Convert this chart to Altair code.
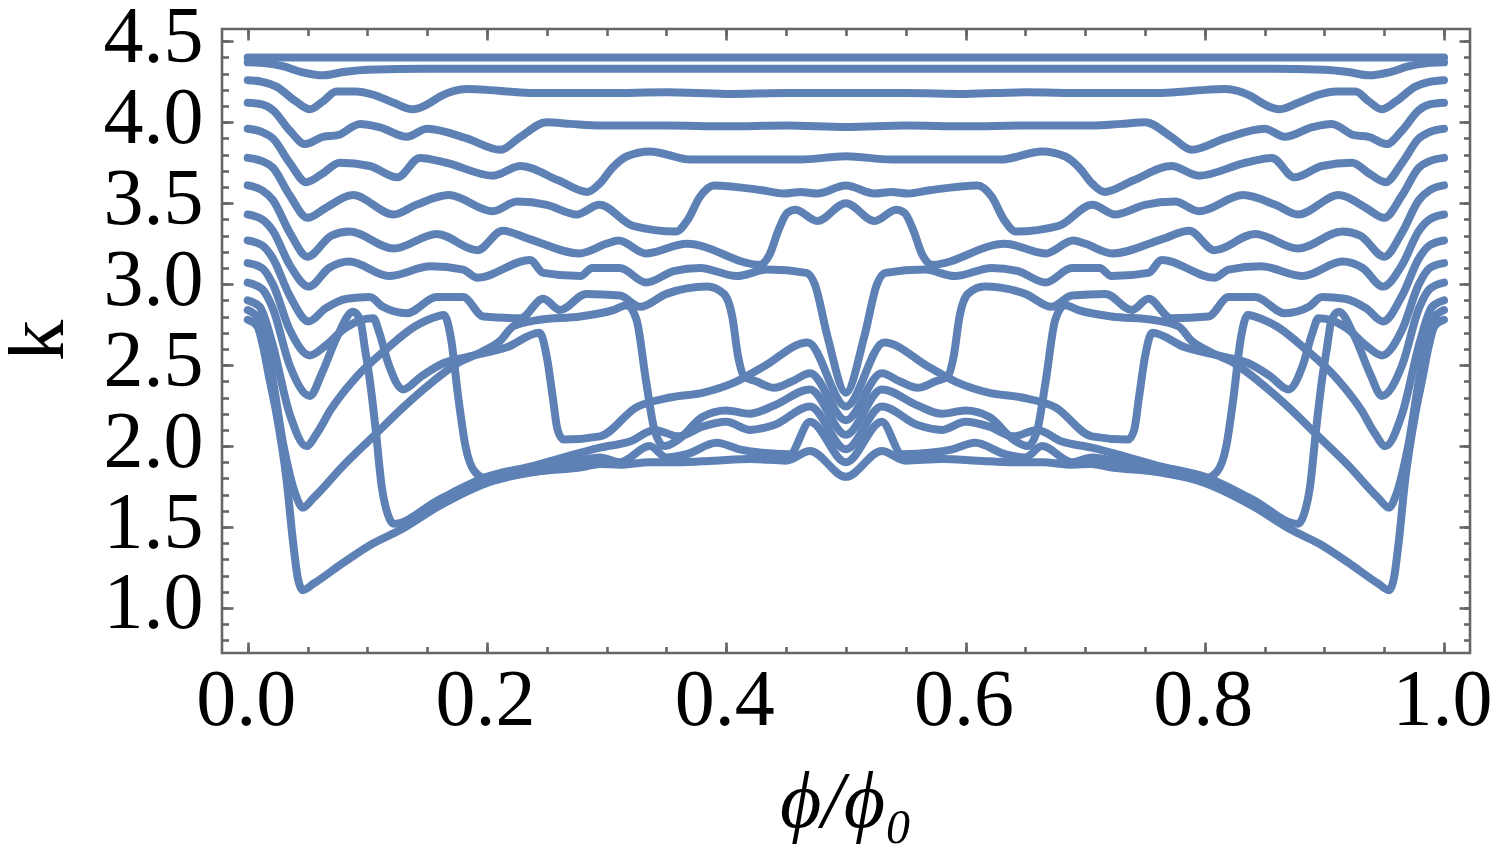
import altair as alt
import pandas as pd

# ---- data (left half, phi/phi0 in [0, 0.5]); the figure is mirror-symmetric about 0.5
PHI_C1 = [0.0, 0.1, 0.2, 0.3, 0.4, 0.5]
K_C1 = [4.40, 4.40, 4.40, 4.40, 4.40, 4.40]

PHI_C2 = [0.0, 0.015, 0.03, 0.045, 0.063, 0.08, 0.1, 0.15, 0.3, 0.5]
K_C2 = [4.37, 4.365, 4.345, 4.31, 4.29, 4.31, 4.325, 4.33, 4.33, 4.33]

PHI_C3 = [0.0, 0.012, 0.024, 0.04, 0.052, 0.063, 0.074, 0.09, 0.105, 0.122, 0.138, 0.15, 0.161,
          0.183, 0.2, 0.217, 0.239, 0.3, 0.35, 0.4, 0.45, 0.5]
K_C3 = [4.26, 4.25, 4.22, 4.13, 4.08, 4.13, 4.19, 4.19, 4.17, 4.12, 4.08, 4.11, 4.16,
        4.205, 4.20, 4.19, 4.18, 4.18, 4.185, 4.175, 4.18, 4.18]

PHI_C4 = [0.0, 0.012, 0.021, 0.035, 0.048, 0.063, 0.075, 0.094, 0.11, 0.133, 0.15, 0.183, 0.211,
          0.228, 0.25, 0.27, 0.295, 0.35, 0.4, 0.45, 0.5]
K_C4 = [4.12, 4.11, 4.075, 3.95, 3.865, 3.91, 3.92, 3.99, 3.97, 3.91, 3.96, 3.90, 3.83,
        3.91, 4.00, 3.99, 3.98, 3.98, 3.975, 3.98, 3.97]

PHI_C5 = [0.0, 0.012, 0.021, 0.035, 0.049, 0.062, 0.077, 0.102, 0.125, 0.144, 0.166, 0.205, 0.228,
          0.26, 0.284, 0.294, 0.305, 0.317, 0.336, 0.37, 0.42, 0.462, 0.5]
K_C5 = [3.96, 3.94, 3.90, 3.75, 3.63, 3.68, 3.75, 3.73, 3.66, 3.78, 3.75, 3.67, 3.73,
        3.64, 3.57, 3.62, 3.72, 3.79, 3.82, 3.77, 3.77, 3.77, 3.79]

PHI_C6 = [0.0, 0.012, 0.021, 0.035, 0.05, 0.065, 0.088, 0.122, 0.141, 0.168, 0.205, 0.225, 0.25,
          0.275, 0.294, 0.322, 0.358, 0.368, 0.378, 0.39, 0.43, 0.448, 0.462, 0.476, 0.5]
K_C6 = [3.78, 3.76, 3.72, 3.55, 3.41, 3.47, 3.55, 3.43, 3.49, 3.55, 3.45, 3.51, 3.49,
        3.43, 3.49, 3.36, 3.325, 3.40, 3.54, 3.61, 3.58, 3.56, 3.57, 3.56, 3.61]

PHI_C7 = [0.0, 0.012, 0.021, 0.035, 0.05, 0.07, 0.085, 0.122, 0.158, 0.192, 0.213, 0.235, 0.277,
          0.3, 0.31, 0.333, 0.367, 0.428, 0.436, 0.444, 0.451, 0.458, 0.476, 0.5]
K_C7 = [3.61, 3.58, 3.52, 3.32, 3.17, 3.30, 3.325, 3.22, 3.31, 3.21, 3.33, 3.28, 3.19,
        3.25, 3.27, 3.19, 3.25, 3.12, 3.18, 3.34, 3.44, 3.46, 3.39, 3.50]

PHI_C8 = [0.0, 0.012, 0.021, 0.035, 0.051, 0.068, 0.085, 0.118, 0.153, 0.18, 0.192, 0.236, 0.247,
          0.278, 0.288, 0.311, 0.333, 0.356, 0.378, 0.409, 0.434, 0.467, 0.474, 0.4845, 0.5]
K_C8 = [3.43, 3.40, 3.33, 3.12, 2.985, 3.10, 3.14, 3.05, 3.11, 3.09, 3.04, 3.15, 3.07,
        3.05, 3.10, 3.10, 3.01, 3.08, 3.10, 3.05, 3.09, 3.07, 3.00, 2.68, 2.33]

PHI_C9 = [0.0, 0.012, 0.021, 0.035, 0.051, 0.065, 0.083, 0.102, 0.113, 0.133, 0.158, 0.18, 0.197,
          0.228, 0.247, 0.261, 0.283, 0.311, 0.328, 0.35, 0.384, 0.398, 0.405, 0.41, 0.415, 0.425,
          0.44, 0.455, 0.47, 0.5]
K_C9 = [3.27, 3.24, 3.16, 2.93, 2.77, 2.85, 2.91, 2.92, 2.86, 2.82, 2.92, 2.92, 2.80,
        2.79, 2.91, 2.84, 2.94, 2.93, 2.86, 2.94, 2.985, 2.94, 2.80, 2.55, 2.43, 2.40,
        2.36, 2.40, 2.45, 2.16]

PHI_C10 = [0.0, 0.012, 0.021, 0.035, 0.052, 0.065, 0.08, 0.095, 0.105, 0.11, 0.118, 0.13, 0.145,
           0.163, 0.183, 0.2165, 0.244, 0.25, 0.255, 0.259, 0.264, 0.2945, 0.325, 0.353, 0.381,
           0.406, 0.431, 0.468, 0.5]
K_C10 = [3.13, 3.10, 3.00, 2.72, 2.56, 2.62, 2.72, 2.78, 2.79, 2.70, 2.50, 2.35, 2.43,
         2.51, 2.55, 2.61, 2.70, 2.55, 2.30, 2.10, 2.04, 2.06, 2.24, 2.30, 2.33,
         2.39, 2.49, 2.64, 2.245]

PHI_C11 = [0.0, 0.012, 0.021, 0.035, 0.052, 0.062, 0.075, 0.088, 0.094, 0.098, 0.102, 0.107, 0.112,
           0.117, 0.122, 0.16, 0.2, 0.24, 0.264, 0.2945, 0.32, 0.34, 0.36, 0.38, 0.40, 0.42,
           0.44, 0.47, 0.5]
K_C11 = [3.01, 2.97, 2.85, 2.50, 2.31, 2.45, 2.68, 2.83, 2.78, 2.60, 2.41, 2.10, 1.75,
         1.58, 1.52, 1.67, 1.81, 1.88, 1.93, 1.99, 2.03, 2.10, 2.06, 2.12, 2.15, 2.10,
         2.13, 2.245, 1.98]

PHI_C12 = [0.0, 0.01, 0.02, 0.035, 0.049, 0.058, 0.069, 0.09, 0.116, 0.14, 0.158, 0.164, 0.17,
           0.176, 0.182, 0.19, 0.2, 0.24, 0.27, 0.2945, 0.311, 0.336, 0.35, 0.367, 0.392, 0.411,
           0.428, 0.453, 0.47, 0.5]
K_C12 = [2.90, 2.86, 2.65, 2.20, 2.00, 2.08, 2.22, 2.42, 2.60, 2.74, 2.80, 2.81, 2.66,
         2.30, 2.00, 1.84, 1.80, 1.87, 1.90, 1.93, 1.90, 2.00, 1.93, 1.95, 2.02, 1.98,
         1.96, 1.95, 2.15, 1.90]

PHI_C13 = [0.0, 0.01, 0.02, 0.03, 0.04, 0.046, 0.055, 0.08, 0.105, 0.13, 0.155, 0.175, 0.195,
           0.211, 0.222, 0.244, 0.278, 0.3056, 0.317, 0.325, 0.333, 0.34, 0.348, 0.36, 0.38,
           0.40, 0.42, 0.44, 0.47, 0.5]
K_C13 = [2.84, 2.78, 2.45, 2.00, 1.70, 1.62, 1.68, 1.88, 2.06, 2.24, 2.40, 2.51, 2.58,
         2.65, 2.74, 2.78, 2.80, 2.84, 2.87, 2.78, 2.40, 2.10, 2.00, 2.04, 2.18,
         2.22, 2.20, 2.25, 2.35, 2.07]

PHI_C14 = [0.0, 0.008, 0.013, 0.018, 0.024, 0.0325, 0.038, 0.042, 0.046, 0.055, 0.08, 0.105, 0.127,
           0.16, 0.203, 0.24, 0.28, 0.2945, 0.311, 0.336, 0.36, 0.39, 0.42, 0.45, 0.47, 0.5]
K_C14 = [2.78, 2.74, 2.61, 2.42, 2.20, 1.79, 1.40, 1.18, 1.11, 1.15, 1.28, 1.40, 1.48,
         1.63, 1.78, 1.84, 1.87, 1.89, 1.885, 1.90, 1.90, 1.91, 1.92, 1.91, 1.97, 1.81]

CURVES = [(PHI_C1, K_C1), (PHI_C2, K_C2), (PHI_C3, K_C3), (PHI_C4, K_C4), (PHI_C5, K_C5),
          (PHI_C6, K_C6), (PHI_C7, K_C7), (PHI_C8, K_C8), (PHI_C9, K_C9), (PHI_C10, K_C10),
          (PHI_C11, K_C11), (PHI_C12, K_C12), (PHI_C13, K_C13), (PHI_C14, K_C14)]

X_MAJOR = [0.0, 0.2, 0.4, 0.6, 0.8, 1.0]
X_MINOR = [0.0, 0.05, 0.1, 0.15, 0.2, 0.25, 0.3, 0.35, 0.4, 0.45, 0.5, 0.55, 0.6, 0.65, 0.7,
           0.75, 0.8, 0.85, 0.9, 0.95, 1.0]
Y_MAJOR = [1.0, 1.5, 2.0, 2.5, 3.0, 3.5, 4.0, 4.5]
Y_MINOR = [0.8, 0.9, 1.0, 1.1, 1.2, 1.3, 1.4, 1.5, 1.6, 1.7, 1.8, 1.9, 2.0, 2.1, 2.2, 2.3, 2.4,
           2.5, 2.6, 2.7, 2.8, 2.9, 3.0, 3.1, 3.2, 3.3, 3.4, 3.5, 3.6, 3.7, 3.8, 3.9, 4.0, 4.1,
           4.2, 4.3, 4.4, 4.5]
X_DOMAIN = [-0.0215, 1.0217]
Y_DOMAIN = [0.722, 4.576]

# ---- build the long table (right half = mirror image of the read left half)
rows = []
for i, (phi, k) in enumerate(CURVES, start=1):
    left = list(zip(phi, k))
    right = [(round(1.0 - p, 4), kk) for p, kk in reversed(left) if p < 0.5]
    for p, kk in left + right:
        rows.append({"curve": f"C{i:02d}", "phi": p, "k": kk})
df = pd.DataFrame(rows)

W, H = 1248, 624
SERIF = "Liberation Serif"
TICK = "#666666"
LINE = "#5E81B5"

xs = alt.Scale(domain=X_DOMAIN, nice=False, zero=False)
ys = alt.Scale(domain=Y_DOMAIN, nice=False, zero=False)

common = dict(grid=False, domain=False, tickColor=TICK, tickWidth=2.6)


def layer(xaxis, yaxis, visible):
    mark = alt.Chart(df).mark_line(
        color=LINE, strokeWidth=8, interpolate="monotone", strokeCap="round",
        strokeJoin="round", strokeOpacity=1 if visible else 0)
    return mark.encode(
        x=alt.X("phi:Q", scale=xs, axis=xaxis, title=xaxis.title if visible else ""),
        y=alt.Y("k:Q", scale=ys, axis=yaxis, title=yaxis.title if visible else ""),
        detail="curve:N",
    )


x_major_bottom = alt.Axis(
    orient="bottom", values=X_MAJOR, format=".1f", tickSize=11, offset=-11,
    labelFont=SERIF, labelFontSize=80, labelColor="black", labelPadding=8, labelOffset=-2,
    labelOverlap=False, labelFlush=False, labelBound=False,
    title="ϕ/ϕ₀", titleFont=SERIF, titleFontSize=80, titleFontStyle="italic",
    titleFontWeight="normal", titleColor="black", titleX=W / 2, titleY=184,
    titleAlign="center", titleBaseline="alphabetic", **common)
y_major_left = alt.Axis(
    orient="left", values=Y_MAJOR, format=".1f", tickSize=11, offset=-11,
    labelFont=SERIF, labelFontSize=80, labelColor="black", labelPadding=19,
    labelBaseline="middle", labelOffset=-4,
    labelOverlap=False, labelFlush=False, labelBound=False,
    title="k", titleFont=SERIF, titleFontSize=83, titleFontWeight="normal",
    titleColor="black", titleAngle=270, titleX=-171, titleY=H / 2 - 1,
    titleAlign="center", titleBaseline="alphabetic", **common)

x_minor_bottom = alt.Axis(orient="bottom", values=X_MINOR, tickSize=6.5, offset=-6.5,
                          labels=False, title="", **common)
y_minor_left = alt.Axis(orient="left", values=Y_MINOR, tickSize=6.5, offset=-6.5,
                        labels=False, title="", **common)
x_major_top = alt.Axis(orient="top", values=X_MAJOR, tickSize=11, offset=-11,
                       labels=False, title="", **common)
y_major_right = alt.Axis(orient="right", values=Y_MAJOR, tickSize=11, offset=-11,
                         labels=False, title="", **common)
x_minor_top = alt.Axis(orient="top", values=X_MINOR, tickSize=6.5, offset=-6.5,
                       labels=False, title="", **common)
y_minor_right = alt.Axis(orient="right", values=Y_MINOR, tickSize=6.5, offset=-6.5,
                         labels=False, title="", **common)

chart = alt.layer(
    layer(x_major_bottom, y_major_left, True),
    layer(x_minor_bottom, y_minor_left, False),
    layer(x_major_top, y_major_right, False),
    layer(x_minor_top, y_minor_right, False),
).resolve_axis(
    x="independent", y="independent"
).properties(
    width=W, height=H,
    padding={"left": 214, "top": 21, "right": 22, "bottom": 198},
    autosize=alt.AutoSizeParams(type="none"),
    background="white",
).configure_view(
    stroke=TICK, strokeWidth=2.6
)

chart.save("out.html", embed_options={"renderer": "svg", "actions": False})
